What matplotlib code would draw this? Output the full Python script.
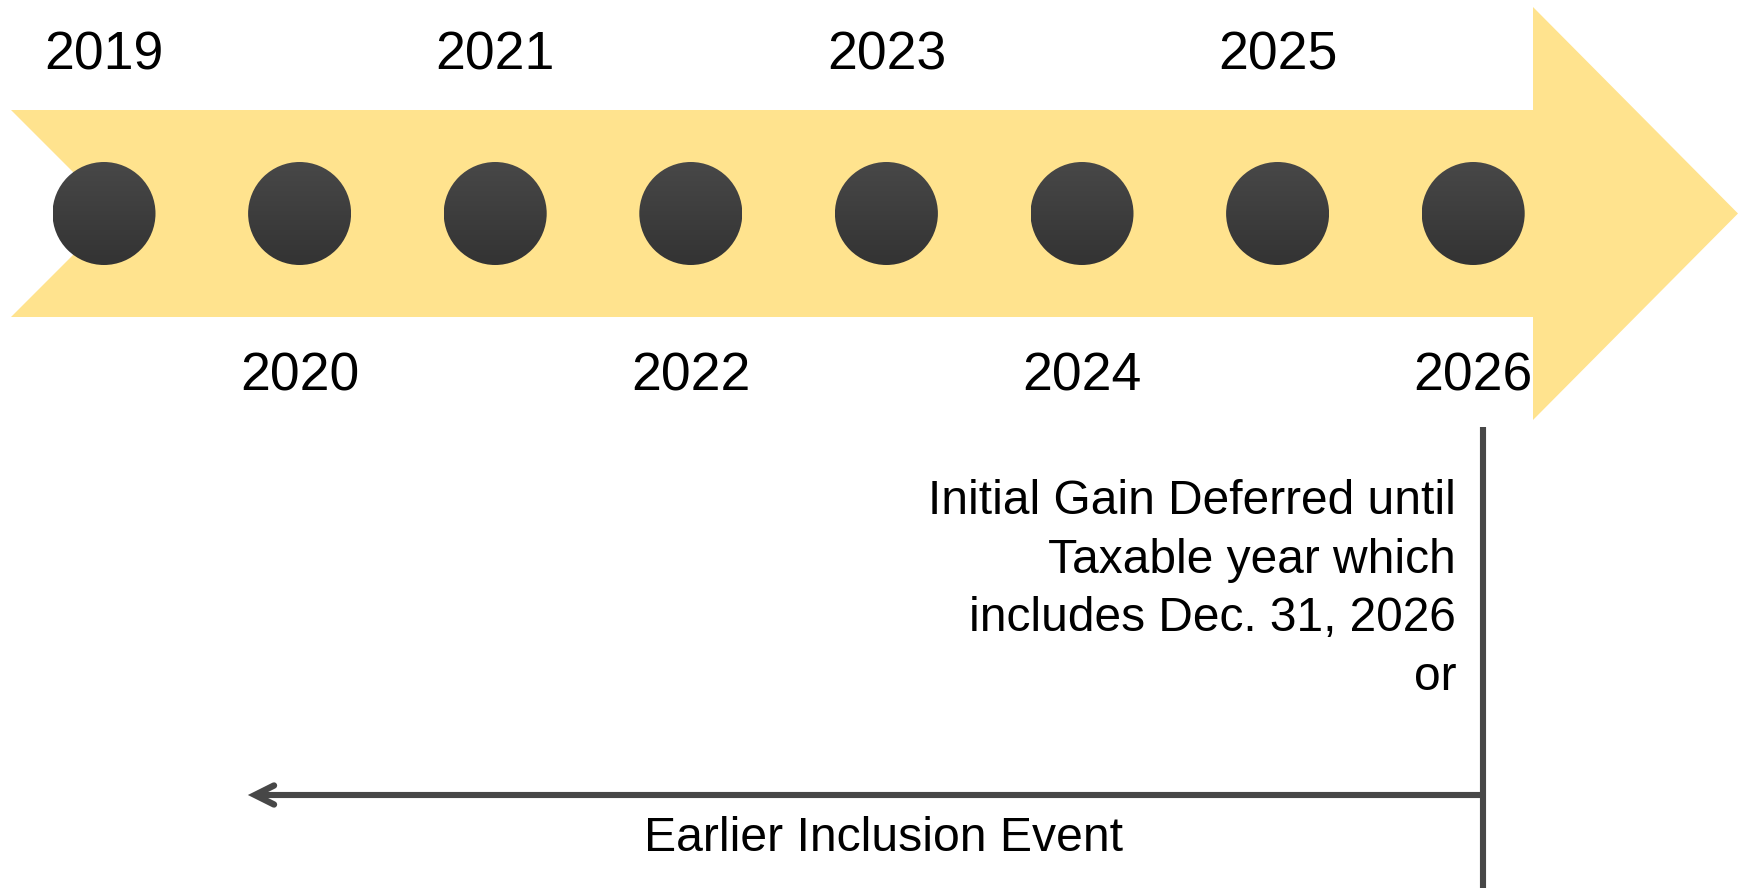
import numpy as np
import matplotlib.pyplot as plt
from matplotlib.patches import Polygon, Circle

plt.rcParams['font.family'] = ['Liberation Sans', 'DejaVu Sans']

# Timeline data
years = ['2019', '2020', '2021', '2022', '2023', '2024', '2025', '2026']
note_lines = ['Initial Gain Deferred until',
              'Taxable year which',
              'includes Dec. 31, 2026',
              'or']
event_label = 'Earlier Inclusion Event'

W, H = 1738, 888
fig = plt.figure(figsize=(W / 100, H / 100), dpi=100)
ax = fig.add_axes([0, 0, 1, 1])

# Big yellow arrow (pixel-space layout)
band_top, band_bot, mid = 110, 317, 213.5
shaft_end, head_top, head_bot, tip = 1533, 7, 420, 1738
left = 11
notch = left + (mid - band_top)
arrow = Polygon([(left, band_top), (shaft_end, band_top), (shaft_end, head_top),
                 (tip, mid), (shaft_end, head_bot), (shaft_end, band_bot),
                 (left, band_bot), (notch, mid)],
                closed=True, facecolor='#FFE38E', edgecolor='none', zorder=1)
ax.add_patch(arrow)

# Dots with a soft vertical gradient
x0, step, r = 104, 195.6, 51.5
grad = np.linspace(0, 1, 100).reshape(-1, 1)
top_c = np.array([0x48, 0x48, 0x48]) / 255
bot_c = np.array([0x33, 0x33, 0x33]) / 255
img = top_c + (bot_c - top_c) * grad[:, :, None]
img = np.repeat(img, 2, axis=1)

for i, yr in enumerate(years):
    cx = x0 + i * step
    circ = Circle((cx, mid), r, facecolor='none', edgecolor='none')
    ax.add_patch(circ)
    im = ax.imshow(img, extent=(cx - r, cx + r, mid + r, mid - r),
                   origin='upper', zorder=2, interpolation='bilinear')
    im.set_clip_path(circ)
    if i % 2 == 0:
        ax.text(cx, 70, yr, ha='center', va='baseline', fontsize=38.5, color='black')
    else:
        ax.text(cx, 390, yr, ha='center', va='baseline', fontsize=38.5, color='black')

# Vertical marker line under 2026 and the leftward event arrow
line_c = '#474747'
vx = 1483
ax.plot([vx, vx], [427, H + 5], color=line_c, lw=4.4, solid_capstyle='butt', zorder=3)
ay, ax_tip = 795, 255
ax.plot([vx, ax_tip + 2], [ay, ay], color=line_c, lw=4.4, solid_capstyle='butt', zorder=3)
ax.plot([ax_tip + 19, ax_tip, ax_tip + 19], [ay - 9.5, ay, ay + 9.5], color=line_c,
        lw=4.6, solid_capstyle='round', solid_joinstyle='miter', zorder=3)

# Note text
base0, lh = 514, 58.5
for k, s in enumerate(note_lines):
    ax.text(1456, base0 + k * lh, s, ha='right', va='baseline', fontsize=34.5, color='black')

ax.text(884, 851, event_label, ha='center', va='baseline', fontsize=34.7, color='black')

ax.set_xlim(0, W)
ax.set_ylim(H, 0)
ax.set_aspect('auto')
ax.axis('off')

fig.savefig('out.png', dpi=100, facecolor='white')
